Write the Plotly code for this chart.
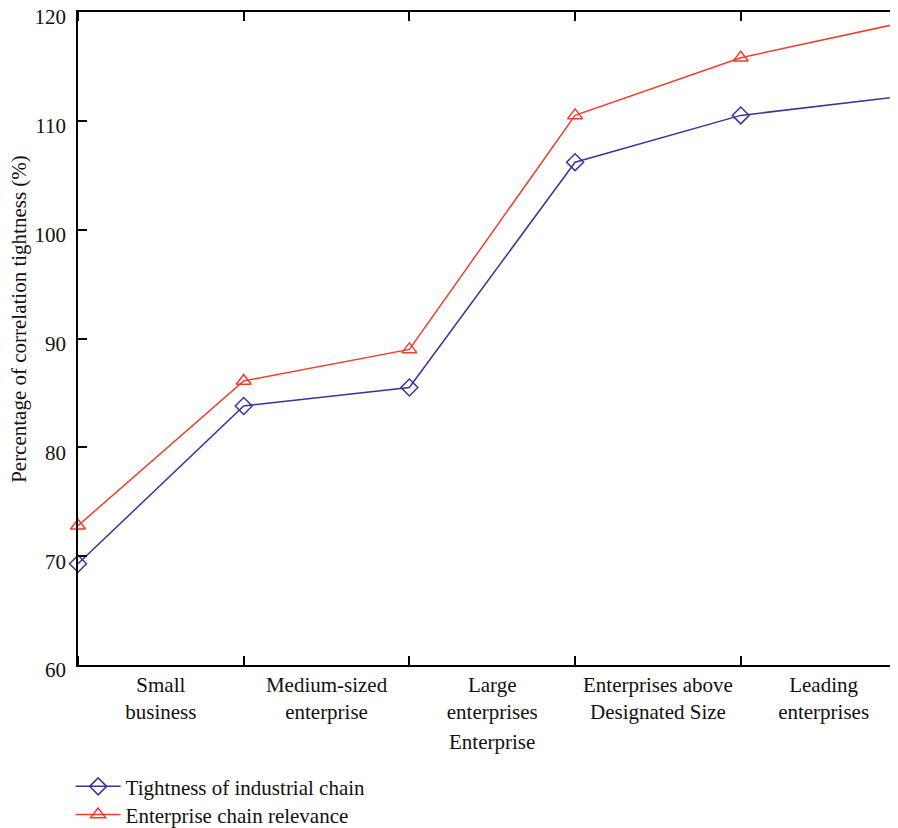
import plotly.graph_objects as go

categories = ["Small<br>business", "Medium-sized<br>enterprise", "Large<br>enterprises",
              "Enterprises above<br>Designated Size", "Leading<br>enterprises"]
x_points = [0, 1, 2, 3, 4, 5]
label_pos = [0.5, 1.5, 2.5, 3.5, 4.5]
tightness = [69.3, 83.8, 85.5, 106.2, 110.5, 112.3]
relevance = [72.8, 86.1, 89.0, 110.5, 115.8, 119.1]
y_ticks = [60, 70, 80, 90, 100, 110, 120]

BLUE = "#3d3399"
RED = "#ef3e2b"
FONT = "Liberation Serif"
FS = 21

fig = go.Figure()
fig.add_trace(go.Scatter(x=x_points, y=tightness, mode="lines+markers",
                         name="Tightness of industrial chain", legend="legend",
                         line=dict(color=BLUE, width=1.5),
                         marker=dict(symbol="diamond-open", size=13, color=BLUE, line=dict(width=1.5)),
                         cliponaxis=False))
fig.add_trace(go.Scatter(x=x_points, y=relevance, mode="lines+markers",
                         name="Enterprise chain relevance", legend="legend2",
                         line=dict(color=RED, width=1.5),
                         marker=dict(symbol="triangle-up-open", size=13, color=RED, line=dict(width=1.5)),
                         cliponaxis=False))

leg_common = dict(x=-0.009, xanchor="left", yanchor="top",
                  font=dict(family=FONT, size=FS), bgcolor="rgba(0,0,0,0)",
                  itemwidth=45)

# plot area: page x 78..898 (820px), page y 12..665 (653px); body margin is 8px
fig.update_layout(
    width=890, height=820,
    margin=dict(l=70, r=0, t=4, b=163, autoexpand=False),
    paper_bgcolor="white", plot_bgcolor="white",
    font=dict(family=FONT, size=FS, color="#111"),
    showlegend=True,
    legend=dict(y=-0.155, **leg_common),
    legend2=dict(y=-0.198, **leg_common),
    xaxis=dict(range=[0, 4.949], tickvals=label_pos, ticktext=categories,
               ticks="", showgrid=False, zeroline=False,
               showline=True, linecolor="black", linewidth=1.5, mirror="ticks",
               minor=dict(tick0=0, dtick=1, ticks="inside", ticklen=9, tickcolor="black",
                          tickwidth=1.5, showgrid=False),
               tickfont=dict(family=FONT, size=FS), ticklabeloverflow="allow"),
    yaxis=dict(range=[60, 120], tickvals=y_ticks, ticks="inside", ticklen=9,
               tickcolor="black", tickwidth=1.5, showgrid=False, zeroline=False,
               showline=True, linecolor="black", linewidth=1.5,
               ticklabelshift=5, ticklabelstandoff=6,
               tickfont=dict(family=FONT, size=FS), ticklabeloverflow="allow"),
    yaxis2=dict(range=[60, 120], overlaying="y", side="right", anchor="x",
                tickvals=y_ticks, ticks="inside", ticklen=2, tickcolor="black",
                tickwidth=1.5, showticklabels=False, showgrid=False, zeroline=False,
                showline=False),
    annotations=[
        dict(text="Enterprise", xref="paper", yref="paper",
             x=0.5 * 828 / 820, y=-0.118, xanchor="center", yanchor="middle",
             showarrow=False, font=dict(family=FONT, size=FS)),
        dict(text="Percentage of correlation tightness (%)", xref="paper", yref="paper",
             x=-0.072, y=0.530, xanchor="center", yanchor="middle", textangle=-90,
             showarrow=False, font=dict(family=FONT, size=FS)),
    ],
)

fig.write_html("out.html")
